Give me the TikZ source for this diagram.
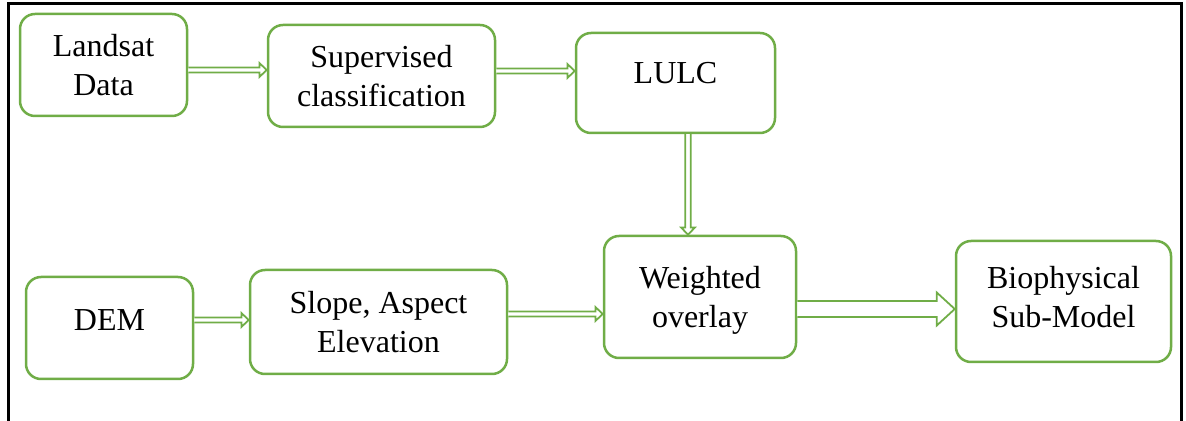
\documentclass[tikz,border=0pt]{standalone}
\usepackage{fontspec}
\setmainfont{Liberation Serif}
\usetikzlibrary{calc}
\definecolor{grn}{HTML}{70AD47}
\tikzset{
  box/.style={draw=grn, line width=1.25pt, rounded corners=7.5pt, fill=white,
    align=center, inner sep=0pt, font=\fontsize{16}{19.5}\selectfont},
  arrowline/.style={draw=grn, line width=0.9pt, fill=white, line join=miter},
  frame/.style={line width=1.5pt, draw=black}
}
% horizontal hollow arrow: start, end, half shaft, half head, head length
\newcommand\harr[5]{%
  \draw[arrowline] let \p1=#1, \p2=#2 in
    (\x1,\y1+#3) -- (\x2-#5,\y1+#3) -- (\x2-#5,\y1+#4) -- (\x2,\y1)
    -- (\x2-#5,\y1-#4) -- (\x2-#5,\y1-#3) -- (\x1,\y1-#3);}
% vertical (downward) hollow arrow
\newcommand\varr[5]{%
  \draw[arrowline] let \p1=#1, \p2=#2 in
    (\x1-#3,\y1) -- (\x1-#3,\y2+#5) -- (\x1-#4,\y2+#5) -- (\x1,\y2)
    -- (\x1+#4,\y2+#5) -- (\x1+#3,\y2+#5) -- (\x1+#3,\y1);}
\begin{document}
\begin{tikzpicture}[x=0.5pt,y=-0.5pt]
\useasboundingbox (0,0) rectangle (1186,421);
\draw[frame] (8,421) -- (8,4) -- (1181,4) -- (1181,421);

\node[box, minimum width=83.5pt, minimum height=51pt, text depth=-3.6pt] (land) at (103.5,65) {Landsat\\Data};
\node[box, minimum width=113.5pt, minimum height=51pt, text depth=-1.6pt] (sup) at (381.5,76) {Supervised\\classification};
\node[box, minimum width=99.5pt, minimum height=50pt, text depth=10.1pt] (lulc) at (675.5,83) {LULC};
\node[box, minimum width=83.5pt, minimum height=51pt, text depth=7.6pt] (dem) at (109.5,328) {DEM};
\node[box, minimum width=128.5pt, minimum height=52pt, text depth=-2.6pt] (slope) at (378.5,322) {Slope, Aspect\\Elevation};
\node[box, minimum width=96pt, minimum height=61pt, text depth=-0.1pt] (wo) at (700,297) {Weighted\\overlay};
\node[box, minimum width=107.5pt, minimum height=60.5pt, text depth=4.4pt] (bio) at (1063.5,301.5) {Biophysical\\Sub-Model};

\harr{(land.east |- 0,70)}{(sup.west |- 0,70)}{1.25pt}{3.4pt}{3.6pt}
\harr{(sup.east |- 0,71)}{(lulc.west |- 0,71)}{1.25pt}{3.4pt}{3.6pt}
\harr{(dem.east |- 0,320)}{(slope.west |- 0,320)}{1.25pt}{3.4pt}{3.6pt}
\harr{(slope.east |- 0,314)}{(wo.west |- 0,314)}{1.25pt}{3.4pt}{3.6pt}
\varr{(lulc.south -| 688,0)}{(wo.north -| 688,0)}{1.4pt}{3.4pt}{3.6pt}
\harr{(wo.east |- 0,309)}{(bio.west |- 0,309)}{4pt}{8.25pt}{9pt}
\end{tikzpicture}
\end{document}
